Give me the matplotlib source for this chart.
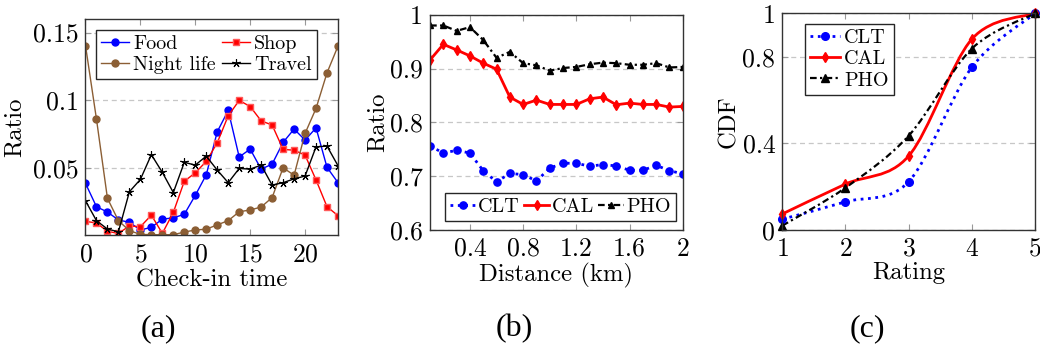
import numpy as np
import matplotlib
matplotlib.use('Agg')
from matplotlib import pyplot as plt
from matplotlib.path import Path
from matplotlib.patches import PathPatch
from matplotlib.lines import Line2D

# ---- data ----
hours = list(range(24))
food = [0.0385, 0.0212, 0.0173, 0.0114, 0.0097, 0.004, 0.006, 0.012, 0.013, 0.0156,
        0.0296, 0.0448, 0.0766, 0.0924, 0.058, 0.0638, 0.049, 0.0527, 0.0688, 0.0786,
        0.0705, 0.0795, 0.0503, 0.039]
shop = [0.0104, 0.0092, 0.003, 0.0015, 0.007, 0.0064, 0.015, 0.0015, 0.017, 0.040,
        0.0463, 0.0547, 0.0685, 0.0884, 0.0998, 0.0953, 0.0847, 0.0816, 0.0636, 0.063,
        0.0594, 0.041, 0.0212, 0.0146]
nightlife = [0.1404, 0.086, 0.0274, 0.0109, 0.0035, 0.0008, 0.0005, 0.0005, 0.0005, 0.0025,
             0.004, 0.0046, 0.0078, 0.0109, 0.0175, 0.0188, 0.021, 0.028, 0.05, 0.0445,
             0.0754, 0.0939, 0.1202, 0.14]
travel = [0.0256, 0.0109, 0.0047, 0.0027, 0.0323, 0.0414, 0.0597, 0.0466, 0.0317, 0.054,
          0.052, 0.0586, 0.0483, 0.039, 0.0495, 0.049, 0.052, 0.0372, 0.039, 0.0418,
          0.0439, 0.0655, 0.066, 0.0515]

distance = [0.1, 0.2, 0.3, 0.4, 0.5, 0.6, 0.7, 0.8, 0.9, 1.0,
            1.1, 1.2, 1.3, 1.4, 1.5, 1.6, 1.7, 1.8, 1.9, 2.0]
clt_dist = [0.756, 0.743, 0.748, 0.743, 0.710, 0.6895, 0.705, 0.703, 0.691, 0.715,
            0.724, 0.724, 0.7185, 0.7216, 0.719, 0.711, 0.711, 0.720, 0.7105, 0.704]
cal_dist = [0.916, 0.945, 0.9346, 0.9235, 0.910, 0.8988, 0.8469, 0.8333, 0.8413, 0.8333,
            0.8333, 0.8333, 0.8438, 0.847, 0.8327, 0.8358, 0.8333, 0.8333, 0.8284, 0.8296]
pho_dist = [0.98, 0.98, 0.970, 0.977, 0.953, 0.920, 0.931, 0.910, 0.906, 0.896,
            0.901, 0.903, 0.908, 0.911, 0.910, 0.907, 0.907, 0.910, 0.902, 0.903]

rating = [1, 2, 3, 4, 5]
clt_cdf = [0.05, 0.13, 0.223, 0.751, 1.0]
cal_cdf = [0.074, 0.212, 0.3415, 0.881, 1.0]
pho_cdf = [0.02, 0.195, 0.435, 0.837, 1.0]

BLUE = '#0000ff'
RED = '#ff0000'
BROWN = '#8b5e34'
DASHDOT = (0, (3, 1.5, 1, 1.5))

plt.rcParams['font.family'] = 'cmr10'
plt.rcParams['axes.formatter.use_mathtext'] = True
plt.rcParams['axes.unicode_minus'] = False


def style_axes(ax):
    for s in ax.spines.values():
        s.set_color('0.2')
        s.set_linewidth(1.0)
    ax.tick_params(direction='in', top=True, right=True, length=4, width=0.8,
                   color='0.6', labelsize=18.5, pad=5)
    ax.set_axisbelow(True)
    ax.yaxis.grid(True, linestyle=(0, (4, 3)), color='0.78', linewidth=0.9)


def smooth_path(xs, ys, k=0.16):
    pts = np.column_stack([xs, ys]).astype(float)
    n = len(pts)
    verts = [pts[0]]
    codes = [Path.MOVETO]
    for i in range(n - 1):
        p0 = pts[i - 1] if i > 0 else pts[i]
        p1 = pts[i]
        p2 = pts[i + 1]
        p3 = pts[i + 2] if i + 2 < n else pts[i + 1]
        verts += [p1 + k * (p2 - p0), p2 - k * (p3 - p1), p2]
        codes += [Path.CURVE4] * 3
    return Path(verts, codes)


def boxed_legend(ax, **kw):
    leg = ax.legend(borderaxespad=0, fontsize=14.5, fancybox=False, edgecolor='0.15',
                    framealpha=1, borderpad=0.25, **kw)
    leg.get_frame().set_linewidth(1.0)
    return leg


fig = plt.figure(figsize=(10.4, 3.5), dpi=100)

# ---- (a) ----
ax1 = fig.add_axes([0.0822, 0.3274, 0.2428, 0.6183])
h_food, = ax1.plot(hours, food, color=BLUE, lw=1.0, marker='o', ms=5, label='Food')
h_shop, = ax1.plot(hours, shop, color=RED, lw=1.0, marker='s', ms=4.8, mec='#ff5a5a',
                   label='Shop')
h_night, = ax1.plot(hours, nightlife, color=BROWN, lw=1.0, marker='o', ms=5,
                    label='Night life')
h_travel, = ax1.plot(hours, travel, color='black', lw=1.0, marker=(5, 2, 0), ms=6,
                     mew=0.8, label='Travel')
ax1.set_xlim(0, 23)
ax1.set_ylim(0, 0.16)
ax1.set_xticks([0, 5, 10, 15, 20])
ax1.set_yticks([0.05, 0.1, 0.15])
ax1.set_yticklabels(['0.05', '0.1', '0.15'])
style_axes(ax1)
ax1.set_xlabel('Check-in time', fontsize=17.8)
ax1.set_ylabel('Ratio', fontsize=17.8)
ax1.xaxis.set_label_coords(0.5, -0.158)
ax1.yaxis.set_label_coords(-0.235, 0.5)
boxed_legend(ax1, handles=[h_food, h_night, h_shop, h_travel], ncol=2, loc='upper left',
             bbox_to_anchor=(0.042, 0.95), handlelength=1.4, handletextpad=0.2,
             columnspacing=0.3, labelspacing=0.15)

# ---- (b) ----
ax2 = fig.add_axes([0.4135, 0.3429, 0.243, 0.615])
ax2.plot(distance, clt_dist, color=BLUE, lw=2.0, ls=':', marker='o', ms=5.2, label='CLT')
ax2.plot(distance, cal_dist, color=RED, lw=2.0, ls='-', marker='d', ms=5.2, label='CAL')
ax2.plot(distance, pho_dist, color='black', lw=1.6, ls=DASHDOT, marker='^', ms=5,
         label='PHO')
ax2.set_xlim(0.1, 2.0)
ax2.set_ylim(0.6, 1.0)
ax2.set_xticks([0.4, 0.8, 1.2, 1.6, 2.0])
ax2.set_xticklabels(['0.4', '0.8', '1.2', '1.6', '2'])
ax2.set_yticks([0.6, 0.7, 0.8, 0.9, 1.0])
ax2.set_yticklabels(['0.6', '0.7', '0.8', '0.9', '1'])
style_axes(ax2)
ax2.set_xlabel('Distance (km)', fontsize=17.8)
ax2.set_ylabel('Ratio', fontsize=17.8)
ax2.xaxis.set_label_coords(0.5, -0.155)
ax2.yaxis.set_label_coords(-0.165, 0.5)
boxed_legend(ax2, ncol=3, loc='lower right', bbox_to_anchor=(0.974, 0.042),
             handlelength=1.25, handletextpad=0.15, columnspacing=0.2)

# ---- (c) ----
ax3 = fig.add_axes([0.7522, 0.3429, 0.243, 0.619])
specs = [
    (clt_cdf, BLUE, ':', 2.0, 'o', 5.5, 'CLT'),
    (cal_cdf, RED, '-', 2.0, 'd', 5.5, 'CAL'),
    (pho_cdf, 'black', DASHDOT, 1.6, '^', 5.2, 'PHO'),
]
handles = []
for vals, col, ls, lw, mk, ms, lab in specs:
    patch = PathPatch(smooth_path(rating, vals), fill=False, edgecolor=col,
                      linestyle=ls, linewidth=lw)
    ax3.add_patch(patch)
    ax3.plot(rating, vals, ls='none', marker=mk, ms=ms, color=col, clip_on=False)
    handles.append(Line2D([], [], color=col, ls=ls, lw=lw, marker=mk, ms=ms, label=lab))
ax3.set_xlim(1, 5)
ax3.set_ylim(0, 1)
ax3.set_xticks([1, 2, 3, 4, 5])
ax3.set_yticks([0, 0.4, 0.8, 1.0])
ax3.set_yticklabels(['0', '0.4', '0.8', '1'])
style_axes(ax3)
ax3.set_xlabel('Rating', fontsize=17.8)
ax3.set_ylabel('CDF', fontsize=17.8)
ax3.xaxis.set_label_coords(0.5, -0.148)
ax3.yaxis.set_label_coords(-0.167, 0.5)
boxed_legend(ax3, handles=handles, loc='upper left', bbox_to_anchor=(0.09, 0.95),
             handlelength=1.5, handletextpad=0.2, labelspacing=0.15)

# ---- captions ----
for xpos, cap in [(158, '(a)'), (514, '(b)'), (867, '(c)')]:
    fig.text(xpos / 1040, 1 - 329 / 350, cap, ha='center', va='center',
             fontsize=23, family='Liberation Serif')

fig.savefig('out.png', dpi=100)
